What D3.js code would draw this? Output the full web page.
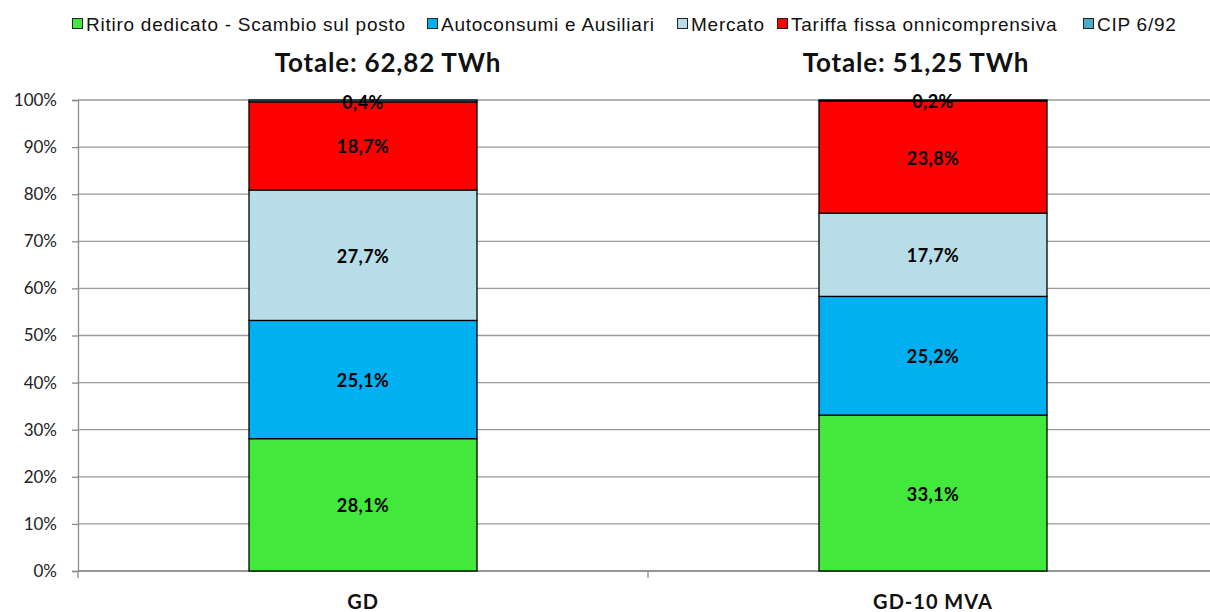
<!DOCTYPE html>
<html><head><meta charset="utf-8">
<script src="https://cdn.jsdelivr.net/npm/d3@7"></script>
<style>body{margin:0;background:#fff;}svg{display:block;}</style>
</head><body>
<svg id="chart" width="1210" height="612"></svg>
<script>
const categories = ["GD", "GD-10 MVA"];
const totals = ["Totale: 62,82 TWh", "Totale: 51,25 TWh"];
const seriesNames = ["Ritiro dedicato - Scambio sul posto", "Autoconsumi e Ausiliari", "Mercato", "Tariffa fissa onnicomprensiva", "CIP 6/92"];
const seriesColors = ["#43E83C", "#00B0F0", "#B7DEE8", "#FF0000", "#4BACC6"];
const ritiro = [28.1, 33.1];
const autoconsumi = [25.1, 25.2];
const mercato = [27.7, 17.7];
const tariffa = [18.7, 23.8];
const cip = [0.4, 0.2];
const yTicks = [0, 10, 20, 30, 40, 50, 60, 70, 80, 90, 100];

const seriesValues = [ritiro, autoconsumi, mercato, tariffa, cip];
const svg = d3.select("#chart");
const m = {left: 78, right: 1218, top: 100, bottom: 571};
const calib = "Lato, 'Open Sans', sans-serif";

const x = d3.scaleBand().domain(categories).range([m.left, m.right]).paddingInner(0).paddingOuter(0);
const y = d3.scaleLinear().domain([0, 100]).range([m.bottom, m.top]);
const barW = x.bandwidth() * 0.4;

// gridlines
svg.append("g").selectAll("line").data(yTicks).join("line")
  .attr("x1", m.left).attr("x2", 1210)
  .attr("y1", d => y(d)).attr("y2", d => y(d))
  .attr("stroke", "#9a9a9a").attr("stroke-width", 1.3);

// y axis
const yAxis = d3.axisLeft(y).tickValues(yTicks).tickFormat(d => d + "%").tickSize(6).tickPadding(15);
const gy = svg.append("g").attr("transform", `translate(${m.left},0)`).call(yAxis);
gy.select(".domain").attr("stroke", "#8c8c8c").attr("stroke-width", 1.3);
gy.selectAll(".tick line").attr("stroke", "#8c8c8c").attr("stroke-width", 1.3);
gy.selectAll("text").attr("font-family", calib).attr("font-size", 17).attr("fill", "#222");

// x axis
const xAxis = d3.axisBottom(x).tickValues([]).tickSize(0);
const gx = svg.append("g").attr("transform", `translate(0,${m.bottom})`).call(xAxis);
gx.select(".domain").remove();
svg.append("line").attr("x1", m.left).attr("x2", 1210).attr("y1", m.bottom).attr("y2", m.bottom)
  .attr("stroke", "#8c8c8c").attr("stroke-width", 1.3);
const boundaries = [m.left, x(categories[1])];
svg.append("g").selectAll("line").data(boundaries).join("line")
  .attr("x1", d => d).attr("x2", d => d).attr("y1", m.bottom).attr("y2", m.bottom + 7)
  .attr("stroke", "#8c8c8c").attr("stroke-width", 1.3);
svg.append("g").selectAll("text").data(categories).join("text")
  .attr("x", d => x(d) + x.bandwidth() / 2).attr("y", 609)
  .attr("text-anchor", "middle")
  .attr("font-family", calib).attr("font-weight", "bold").attr("font-size", 20)
  .attr("letter-spacing", 1)
  .attr("fill", "#111").text(d => d);

// stacked bars
const rows = categories.map((c, i) => {
  const o = {cat: c};
  seriesNames.forEach((s, j) => o[s] = seriesValues[j][i]);
  return o;
});
const stack = d3.stack().keys(seriesNames)(rows);
const gBars = svg.append("g");
stack.forEach((layer, j) => {
  gBars.append("g").selectAll("rect").data(layer).join("rect")
    .attr("x", d => x(d.data.cat) + (x.bandwidth() - barW) / 2)
    .attr("y", d => y(d[1]))
    .attr("width", barW)
    .attr("height", d => y(d[0]) - y(d[1]))
    .attr("fill", seriesColors[j])
    .attr("stroke", "#000").attr("stroke-width", 1.3);
});
const gLab = svg.append("g");
stack.forEach((layer, j) => {
  gLab.append("g").selectAll("text").data(layer).join("text")
    .attr("x", d => x(d.data.cat) + x.bandwidth() / 2)
    .attr("y", d => y((d[0] + d[1]) / 2))
    .attr("dy", "0.42em")
    .attr("text-anchor", "middle")
    .attr("font-family", calib).attr("font-weight", "bold").attr("font-size", 18)
    .attr("letter-spacing", 0.4)
    .attr("fill", "#000")
    .text(d => (d[1] - d[0]).toFixed(1).replace(".", ",") + "%");
});

// totals (text boxes placed slightly off the bar centres, as in the original)
const titleShift = [25, -17];
svg.append("g").selectAll("text").data(categories).join("text")
  .attr("x", (d, i) => x(d) + x.bandwidth() / 2 + titleShift[i]).attr("y", 72)
  .attr("text-anchor", "middle")
  .attr("font-family", calib).attr("font-weight", "bold").attr("font-size", 26)
  .attr("letter-spacing", 0.8)
  .attr("fill", "#111").text((d, i) => totals[i]);

// legend
const legendX = [72, 427, 677, 777, 1083];
seriesNames.forEach((s, j) => {
  const g = svg.append("g").attr("transform", `translate(${legendX[j]},0)`);
  g.append("rect").attr("x", 0.5).attr("y", 18.5).attr("width", 10).attr("height", 10)
    .attr("fill", seriesColors[j]).attr("stroke", "#222").attr("stroke-width", 1);
  g.append("text").attr("x", 14).attr("y", 31)
    .attr("font-family", "'Liberation Sans', Arial, sans-serif").attr("font-size", 19)
    .attr("letter-spacing", 0.75)
    .attr("fill", "#111").text(s);
});
</script>
</body></html>
